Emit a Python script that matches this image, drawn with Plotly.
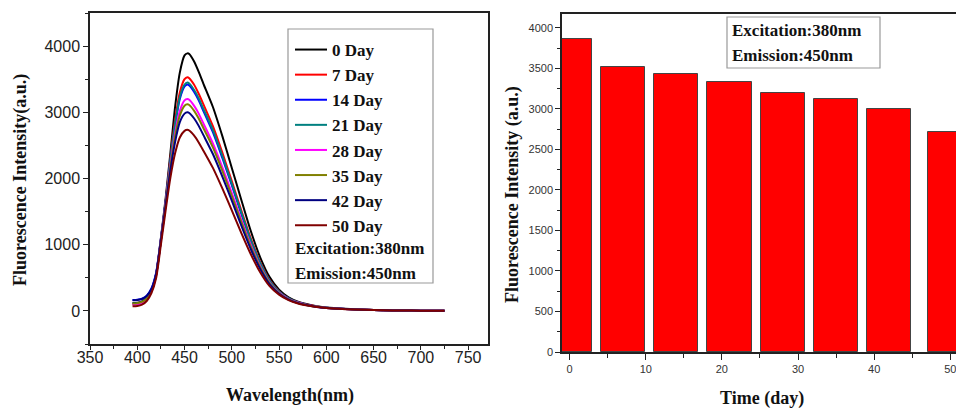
import plotly.graph_objects as go

# ---------------- data ----------------
wavelength = [395, 400, 405, 410, 415, 420, 425, 430, 435, 440, 445, 450, 453, 455, 460, 465, 470,
              480, 490, 500, 510, 520, 530, 540, 550, 560, 570, 580, 590, 600, 620, 640, 660, 680, 700, 725]

day0 = [120, 125, 145, 195, 310, 560, 1100, 1700, 2380, 3080, 3600, 3860, 3890, 3880, 3770, 3610, 3430,
        3080, 2640, 2160, 1680, 1210, 810, 510, 320, 205, 140, 100, 72, 52, 32, 20, 11, 6, 4, 3]
day7 = [100, 105, 125, 180, 300, 550, 1080, 1660, 2300, 2880, 3300, 3500, 3530, 3515, 3420, 3280, 3120,
        2790, 2390, 1960, 1520, 1100, 740, 465, 295, 190, 130, 92, 66, 48, 30, 18, 10, 6, 4, 3]
day14 = [165, 170, 185, 230, 340, 580, 1090, 1650, 2260, 2800, 3200, 3390, 3420, 3405, 3310, 3180, 3020,
         2700, 2310, 1900, 1470, 1060, 715, 450, 285, 185, 126, 90, 64, 47, 29, 18, 10, 6, 4, 3]
day21 = [110, 115, 135, 185, 300, 545, 1070, 1650, 2270, 2820, 3230, 3420, 3450, 3435, 3340, 3210, 3050,
         2730, 2340, 1920, 1490, 1075, 725, 455, 290, 188, 128, 91, 65, 47, 29, 18, 10, 6, 4, 3]
day28 = [95, 100, 120, 175, 295, 540, 1060, 1620, 2200, 2680, 3020, 3180, 3200, 3190, 3100, 2980, 2830,
         2530, 2170, 1780, 1380, 1000, 675, 425, 272, 178, 122, 87, 62, 45, 28, 17, 10, 6, 4, 3]
day35 = [110, 115, 135, 185, 300, 545, 1060, 1610, 2170, 2630, 2950, 3100, 3120, 3110, 3025, 2905, 2760,
         2470, 2115, 1735, 1345, 975, 660, 418, 268, 175, 120, 86, 61, 45, 28, 17, 10, 6, 4, 3]
day42 = [160, 165, 180, 225, 330, 565, 1060, 1590, 2120, 2550, 2850, 2980, 3000, 2990, 2910, 2795, 2655,
         2370, 2030, 1665, 1290, 935, 635, 402, 260, 170, 117, 84, 60, 44, 27, 17, 10, 6, 4, 3]
day50 = [70, 75, 95, 150, 270, 500, 1000, 1520, 2010, 2380, 2620, 2720, 2735, 2725, 2650, 2545, 2420,
         2160, 1850, 1520, 1180, 860, 585, 375, 245, 162, 112, 81, 58, 42, 26, 16, 9, 5, 4, 3]

series_names = ["0 Day", "7 Day", "14 Day", "21 Day", "28 Day", "35 Day", "42 Day", "50 Day"]
series_values = [day0, day7, day14, day21, day28, day35, day42, day50]
series_colors = ["#000000", "#FF0000", "#0000FF", "#008080", "#FF00FF", "#808000", "#000080", "#800000"]

bar_days = [0, 7, 14, 21, 28, 35, 42, 50]
bar_intensity = [3860, 3520, 3430, 3330, 3190, 3120, 3000, 2710]

W, H = 956, 409
SERIF = "Liberation Serif, Times New Roman, serif"
SANS = "Liberation Sans, Arial, sans-serif"

fig = go.Figure()

for name, vals, col in zip(series_names, series_values, series_colors):
    fig.add_trace(go.Scatter(x=wavelength, y=vals, mode="lines", name="<b>%s</b>" % name,
                             line=dict(color=col, width=2, shape="spline", smoothing=0.6),
                             xaxis="x", yaxis="y"))

fig.add_trace(go.Bar(x=bar_days, y=bar_intensity, width=5.8, showlegend=False,
                     marker=dict(color="#FF0000", line=dict(color="#444444", width=1)),
                     xaxis="x2", yaxis="y2"))

axis_common = dict(showgrid=False, zeroline=False, showline=True, linecolor="#222222", linewidth=1.5,
                   ticks="outside", tickcolor="#222222", tickwidth=1.2, automargin=False,
                   ticklabeloverflow="allow")

fig.update_layout(
    template="none",
    width=W, height=H, margin=dict(l=0, r=0, t=0, b=0, pad=0),
    paper_bgcolor="white", plot_bgcolor="white",
    xaxis=dict(domain=[90 / W, 488 / W], range=[350, 771], dtick=50, tick0=350, mirror=True,
               ticklen=4, ticklabelstandoff=-6, tickfont=dict(family=SANS, size=16, color="#222222"),
               minor=dict(dtick=25, ticks="outside", ticklen=3, tickcolor="#222222"),
               anchor="y", **axis_common),
    yaxis=dict(domain=[1 - 344 / H, 1 - 13 / H], range=[-500, 4500], dtick=1000, tick0=0, mirror=True,
               ticklen=5, tickfont=dict(family=SANS, size=16, color="#222222"),
               minor=dict(dtick=500, ticks="outside", ticklen=3, tickcolor="#222222"),
               anchor="x", **axis_common),
    xaxis2=dict(domain=[562 / W, 1.0], range=[-1, 50.75], dtick=10, tick0=0, mirror=True,
                ticklen=6, tickfont=dict(family=SANS, size=11, color="#333333"),
                minor=dict(dtick=5, ticks="outside", ticklen=4, tickcolor="#222222"),
                anchor="y2", **axis_common),
    yaxis2=dict(domain=[1 - 352 / H, 1 - 14 / H], range=[0, 4170], dtick=500, tick0=0, mirror=False,
                ticklen=5, tickfont=dict(family=SANS, size=11, color="#333333"),
                minor=dict(dtick=250, ticks="outside", ticklen=3, tickcolor="#222222"),
                anchor="x2", **axis_common),
    bargap=0,
    legend=dict(x=290 / W, y=1 - 32 / H, xanchor="left", yanchor="top", bgcolor="rgba(0,0,0,0)",
                borderwidth=0, font=dict(family=SERIF, size=17, color="#111111"),
                tracegroupgap=0, itemwidth=32),
    showlegend=True,
)

# legend frame enclosing the entries and the two extra lines
fig.add_shape(type="rect", xref="paper", yref="paper", x0=288 / W, x1=433 / W,
              y0=1 - 283 / H, y1=1 - 29 / H, line=dict(color="#999999", width=1.2), fillcolor="rgba(0,0,0,0)")

ann_font = dict(family=SERIF, size=17, color="#111111")
fig.add_annotation(xref="paper", yref="paper", x=293 / W, y=1 - 248 / H, xanchor="left", yanchor="middle",
                   text="<b>Excitation:380nm</b>", showarrow=False, font=ann_font)
fig.add_annotation(xref="paper", yref="paper", x=293 / W, y=1 - 273 / H, xanchor="left", yanchor="middle",
                   text="<b>Emission:450nm</b>", showarrow=False, font=ann_font)

# right panel box
fig.add_shape(type="rect", xref="paper", yref="paper", x0=727 / W, x1=880 / W,
              y0=1 - 68 / H, y1=1 - 17 / H, line=dict(color="#999999", width=1.2), fillcolor="white")
fig.add_annotation(xref="paper", yref="paper", x=730 / W, y=1 - 31 / H, xanchor="left", yanchor="middle",
                   text="<b>Excitation:380nm</b>", showarrow=False, font=ann_font)
fig.add_annotation(xref="paper", yref="paper", x=730 / W, y=1 - 55 / H, xanchor="left", yanchor="middle",
                   text="<b>Emission:450nm</b>", showarrow=False, font=ann_font)

# axis titles
title_font = dict(family=SERIF, size=18, color="#111111")
fig.add_annotation(xref="paper", yref="paper", x=20 / W, y=1 - 180 / H, text="<b>Fluorescence Intensity(a.u.)</b>",
                   textangle=-90, showarrow=False, font=title_font, xanchor="center", yanchor="middle")
fig.add_annotation(xref="paper", yref="paper", x=290 / W, y=1 - 395 / H, text="<b>Wavelength(nm)</b>",
                   showarrow=False, font=title_font, xanchor="center", yanchor="middle")
fig.add_annotation(xref="paper", yref="paper", x=512 / W, y=1 - 194 / H, text="<b>Fluorescence Intensity (a.u.)</b>",
                   textangle=-90, showarrow=False, font=title_font, xanchor="center", yanchor="middle")
fig.add_annotation(xref="paper", yref="paper", x=762 / W, y=1 - 398 / H, text="<b>Time (day)</b>",
                   showarrow=False, font=title_font, xanchor="center", yanchor="middle")

fig.write_html("out.html")
